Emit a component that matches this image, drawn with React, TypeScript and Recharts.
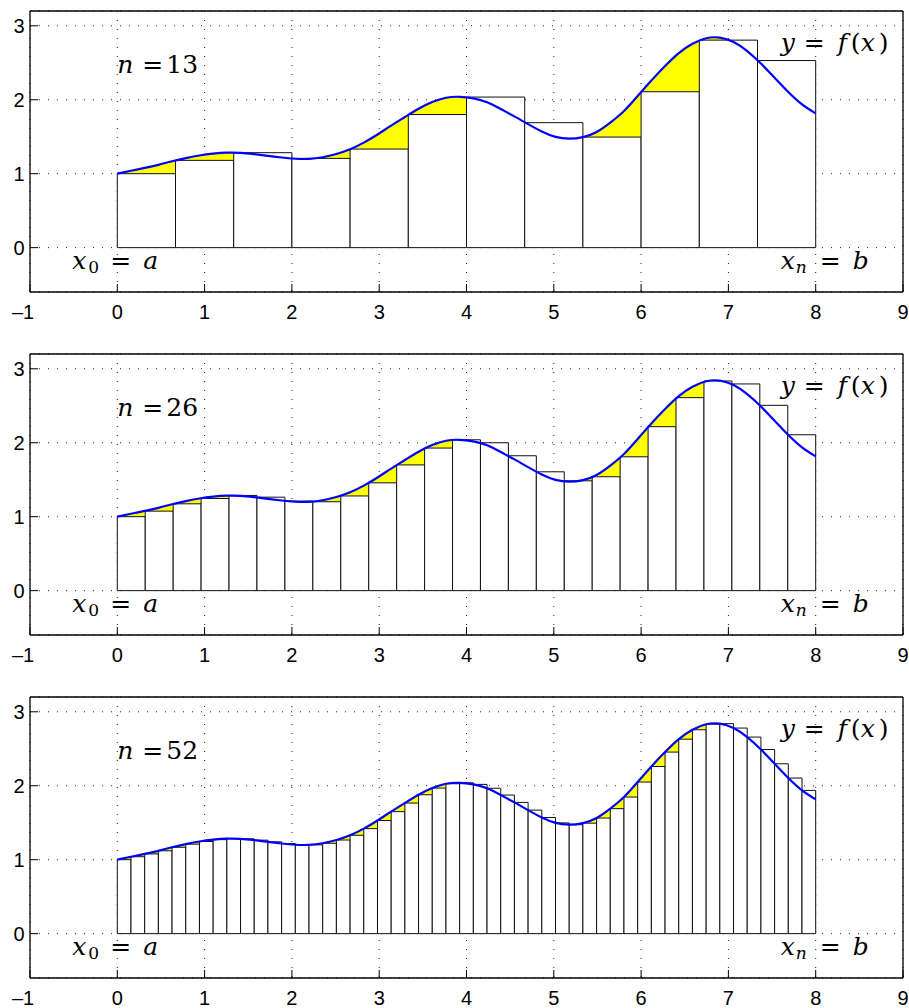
import React from "react";
import {
  ComposedChart,
  XAxis,
  YAxis,
  CartesianGrid,
  Area,
  Line,
  ReferenceArea,
  ReferenceDot,
} from "recharts";

// x axis runs from -1 to 9, the integral is taken over [a, b] = [0, 8]
const xTicks = [-1, 0, 1, 2, 3, 4, 5, 6, 7, 8, 9];
const yTicks = [0, 1, 2, 3];
const intervalA = 0;
const intervalB = 8;

// f(x) at the 52 equally spaced points of [0, 8]
const curveValues = [
  1.0, 1.04, 1.078, 1.12, 1.168, 1.21, 1.246, 1.271, 1.285, 1.282, 1.264,
  1.242, 1.219, 1.202, 1.2, 1.222, 1.266, 1.33, 1.42, 1.53, 1.65, 1.766,
  1.878, 1.968, 2.027, 2.04, 2.018, 1.966, 1.874, 1.775, 1.67, 1.57, 1.497,
  1.473, 1.494, 1.563, 1.69, 1.847, 2.05, 2.26, 2.455, 2.63, 2.757, 2.832,
  2.84, 2.78, 2.658, 2.49, 2.297, 2.104, 1.937, 1.815,
];

// rectangle heights (left end points) for each panel
const heights13 = [
  1.0, 1.18, 1.284, 1.207, 1.333, 1.8, 2.036, 1.69, 1.495, 2.108, 2.806, 2.53,
];
const heights26 = [
  1.0, 1.075, 1.174, 1.246, 1.287, 1.264, 1.212, 1.202, 1.28, 1.458, 1.7,
  1.928, 2.04, 2.0, 1.824, 1.607, 1.485, 1.54, 1.81, 2.217, 2.61, 2.835,
  2.795, 2.506, 2.108,
];
const heights52 = [
  1.0, 1.04, 1.078, 1.12, 1.168, 1.21, 1.246, 1.271, 1.285, 1.282, 1.264,
  1.242, 1.219, 1.202, 1.2, 1.222, 1.266, 1.33, 1.42, 1.53, 1.65, 1.766,
  1.878, 1.968, 2.027, 2.04, 2.018, 1.966, 1.874, 1.775, 1.67, 1.57, 1.497,
  1.473, 1.494, 1.563, 1.69, 1.847, 2.05, 2.26, 2.455, 2.63, 2.757, 2.832,
  2.84, 2.78, 2.658, 2.49, 2.297, 2.104, 1.937,
];

const panelNs = [13, 26, 52];
const panelHeights = [heights13, heights26, heights52];

const curveData = curveValues.map((y, i) => ({
  x: intervalA + ((intervalB - intervalA) * i) / (curveValues.length - 1),
  y,
}));

const tickFont = "'Liberation Sans', Arial, Helvetica, sans-serif";
const mathFont = "'DejaVu Serif', serif";

type Piece = { t: string; dx: number; it?: boolean; sub?: boolean };

function mathLabel(pieces: Piece[]) {
  return (props: any) => {
    const vb = props.viewBox || {};
    const x0 = vb.x ?? 0;
    const y0 = vb.y ?? 0;
    return (
      <text fontFamily={mathFont} fontSize={25} fill="#000">
        {pieces.map((p, i) => (
          <tspan
            key={i}
            x={x0 + p.dx}
            y={y0 + (p.sub ? 4.5 : 0)}
            fontStyle={p.it ? "italic" : "normal"}
            fontSize={p.sub ? 17 : 25}
          >
            {p.t}
          </tspan>
        ))}
      </text>
    );
  };
}

function XTick(props: any) {
  const { x, y, payload } = props;
  const v = payload.value as number;
  const label = v < 0 ? `\u2013${Math.abs(v)}` : String(v);
  return (
    <text
      x={v < 0 ? x - 7 : x}
      y={y}
      dy="0.71em"
      textAnchor="middle"
      fontSize={20}
      fontFamily={tickFont}
      fill="#000"
    >
      {label}
    </text>
  );
}

const frame = { stroke: "#000", strokeWidth: 1.3 };

function RiemannPanel({ n, heights }: { n: number; heights: number[] }) {
  const w = (intervalB - intervalA) / heights.length;
  return (
    <ComposedChart
      width={909}
      height={322}
      data={curveData}
      margin={{ top: 10, right: 5, bottom: 29, left: 29 }}
    >
      <CartesianGrid stroke="#222" strokeDasharray="1 8" strokeWidth={1} />
      <XAxis
        dataKey="x"
        type="number"
        domain={[-1, 9]}
        ticks={xTicks}
        interval={0}
        allowDataOverflow
        height={1}
        tickSize={-8}
        tickMargin={21}
        tick={<XTick />}
        axisLine={frame}
        tickLine={{ stroke: "#000" }}
      />
      <XAxis
        xAxisId="top"
        orientation="top"
        dataKey="x"
        type="number"
        domain={[-1, 9]}
        ticks={xTicks}
        interval={0}
        allowDataOverflow
        height={1}
        tickSize={-8}
        tick={false}
        axisLine={frame}
        tickLine={{ stroke: "#000" }}
      />
      <YAxis
        type="number"
        domain={[-0.6, 3.2]}
        ticks={yTicks}
        interval={0}
        allowDataOverflow
        width={1}
        tickSize={-8}
        tickMargin={13.5}
        tick={{ fontSize: 20, fill: "#000", fontFamily: tickFont }}
        axisLine={frame}
        tickLine={{ stroke: "#000" }}
      />
      <YAxis
        yAxisId="right"
        orientation="right"
        type="number"
        domain={[-0.6, 3.2]}
        ticks={yTicks}
        interval={0}
        allowDataOverflow
        width={1}
        tickSize={-8}
        tick={false}
        axisLine={frame}
        tickLine={{ stroke: "#000" }}
      />
      <Area
        type="natural"
        dataKey="y"
        baseValue={0}
        fill="#ffff00"
        fillOpacity={1}
        stroke="none"
        dot={false}
        activeDot={false}
        isAnimationActive={false}
        zIndex={100}
      />
      {heights.map((h, i) => (
        <ReferenceArea
          key={i}
          x1={intervalA + i * w}
          x2={intervalA + (i + 1) * w}
          y1={0}
          y2={h}
          fill="#ffffff"
          fillOpacity={1}
          stroke="#111"
          strokeWidth={1}
          zIndex={250}
        />
      ))}
      <Line
        type="natural"
        dataKey="y"
        stroke="#0000ff"
        strokeWidth={2.2}
        dot={false}
        activeDot={false}
        isAnimationActive={false}
        zIndex={400}
      />
      <ReferenceDot
        x={intervalA}
        y={2.365}
        r={0}
        fill="none"
        stroke="none"
        ifOverflow="visible"
        label={{
          content: mathLabel([
            { t: "n", dx: 0, it: true },
            { t: "=", dx: 25 },
            { t: String(n), dx: 49 },
          ]),
        }}
      />
      <ReferenceDot
        x={intervalA}
        y={-0.288}
        r={0}
        fill="none"
        stroke="none"
        ifOverflow="visible"
        label={{
          content: mathLabel([
            { t: "x", dx: -45, it: true },
            { t: "0", dx: -29, sub: true },
            { t: "=", dx: -7 },
            { t: "a", dx: 26, it: true },
          ]),
        }}
      />
      <ReferenceDot
        x={intervalB}
        y={-0.288}
        r={0}
        fill="none"
        stroke="none"
        ifOverflow="visible"
        label={{
          content: mathLabel([
            { t: "x", dx: -35, it: true },
            { t: "n", dx: -20, it: true, sub: true },
            { t: "=", dx: 4 },
            { t: "b", dx: 37, it: true },
          ]),
        }}
      />
      <ReferenceDot
        x={intervalB}
        y={2.662}
        r={0}
        fill="none"
        stroke="none"
        ifOverflow="visible"
        label={{
          content: mathLabel([
            { t: "y", dx: -35, it: true },
            { t: "=", dx: -12 },
            { t: "f", dx: 22, it: true },
            { t: "(", dx: 35 },
            { t: "x", dx: 45, it: true },
            { t: ")", dx: 63 },
          ]),
        }}
      />
    </ComposedChart>
  );
}

export default function App() {
  return (
    <div
      style={{
        position: "absolute",
        left: 0,
        top: 0,
        width: 909,
        height: 1008,
        background: "#fff",
      }}
    >
      {panelNs.map((n, i) => (
        <div key={n} style={{ position: "absolute", left: 0, top: i * 343 }}>
          <RiemannPanel n={n} heights={panelHeights[i]} />
        </div>
      ))}
    </div>
  );
}
